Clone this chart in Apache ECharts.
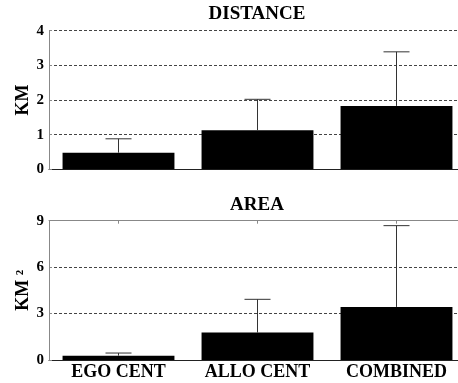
<!DOCTYPE html>
<html><head><meta charset="utf-8">
<script src="https://cdn.jsdelivr.net/npm/echarts@6/dist/echarts.min.js"></script>
<style>html,body{margin:0;padding:0;background:#fff}#c{width:458px;height:383px}</style>
</head><body><div id="c"></div>
<script>
var categories = ['EGO CENT', 'ALLO CENT', 'COMBINED'];
var distanceMean = [0.48, 1.13, 1.83];
var distanceUpper = [0.88, 2.02, 3.39];
var areaMean = [0.28, 1.77, 3.43];
var areaUpper = [0.45, 3.92, 8.68];
var distanceTicks = { min: 0, max: 4, interval: 1 };
var areaTicks = { min: 0, max: 9, interval: 3 };

var FONT = '"Liberation Serif", "Times New Roman", serif';
var chart = echarts.init(document.getElementById('c'), null, { renderer: 'canvas' });

function errItem(params, api) {
  var x = api.value(0), lo = api.value(1), hi = api.value(2);
  var p0 = api.coord([x, lo]), p1 = api.coord([x, hi]);
  var hw = 13;
  return {
    type: 'group',
    children: [
      { type: 'line', shape: { x1: p0[0], y1: p0[1], x2: p1[0], y2: p1[1] }, style: { stroke: '#333', lineWidth: 1 } },
      { type: 'line', shape: { x1: p1[0] - hw, y1: p1[1], x2: p1[0] + hw, y2: p1[1] }, style: { stroke: '#333', lineWidth: 1 } }
    ]
  };
}

function yAxis(gi, ticks, name) {
  return {
    type: 'value', gridIndex: gi, min: ticks.min, max: ticks.max, interval: ticks.interval,
    name: name, nameLocation: 'middle', nameGap: 17, nameMoveOverlap: false,
    nameTextStyle: { fontFamily: FONT, fontWeight: 'bold', fontSize: 18, color: '#000' },
    axisLine: { show: true, lineStyle: { color: '#888', width: 1 } },
    axisTick: { show: true, inside: true, length: 3, lineStyle: { color: '#888' } },
    axisLabel: { fontFamily: FONT, fontWeight: 'bold', fontSize: 15, color: '#000', margin: 5 },
    splitLine: { show: true, lineStyle: { type: [3, 2], color: '#444', width: 1 } }
  };
}

var option = {
  animation: false,
  backgroundColor: '#fff',
  title: [
    { text: 'DISTANCE', left: 252, top: 0, textAlign: 'center',
      textStyle: { fontFamily: FONT, fontWeight: 'bold', fontSize: 19, color: '#000' } },
    { text: 'AREA', left: 252, top: 191, textAlign: 'center',
      textStyle: { fontFamily: FONT, fontWeight: 'bold', fontSize: 19, color: '#000' } }
  ],
  grid: [
    { left: 49, top: 30.7, width: 417, height: 138.6, outerBoundsMode: 'none', containLabel: false },
    { left: 49, top: 220.7, width: 417, height: 139.3, outerBoundsMode: 'none', containLabel: false }
  ],
  xAxis: [
    { type: 'category', gridIndex: 0, data: categories,
      axisLine: { lineStyle: { color: '#222', width: 1 } }, axisTick: { show: false }, axisLabel: { show: false } },
    { type: 'category', gridIndex: 1, data: categories,
      axisLine: { lineStyle: { color: '#222', width: 1 } }, axisTick: { show: false },
      axisLabel: { interval: 0, fontFamily: FONT, fontWeight: 'bold', fontSize: 18, color: '#000', margin: 3 } },
    { type: 'category', gridIndex: 1, position: 'top', data: categories,
      axisLine: { show: true, lineStyle: { color: '#888', width: 1 } },
      axisTick: { show: true, inside: true, alignWithLabel: true, length: 3, lineStyle: { color: '#888' } },
      axisLabel: { show: false } }
  ],
  yAxis: [ yAxis(0, distanceTicks, 'KM'), yAxis(1, areaTicks, 'KM ²') ],
  series: [
    { type: 'bar', xAxisIndex: 0, yAxisIndex: 0, data: distanceMean, barCategoryGap: '19.5%',
      itemStyle: { color: '#000' }, z: 3 },
    { type: 'custom', xAxisIndex: 0, yAxisIndex: 0, renderItem: errItem, z: 4,
      data: categories.map(function (c, i) { return [i, distanceMean[i], distanceUpper[i]]; }) },
    { type: 'bar', xAxisIndex: 1, yAxisIndex: 1, data: areaMean, barCategoryGap: '19.5%',
      itemStyle: { color: '#000' }, z: 3 },
    { type: 'custom', xAxisIndex: 1, yAxisIndex: 1, renderItem: errItem, z: 4,
      data: categories.map(function (c, i) { return [i, areaMean[i], areaUpper[i]]; }) }
  ]
};
chart.setOption(option);
</script>
</body></html>
